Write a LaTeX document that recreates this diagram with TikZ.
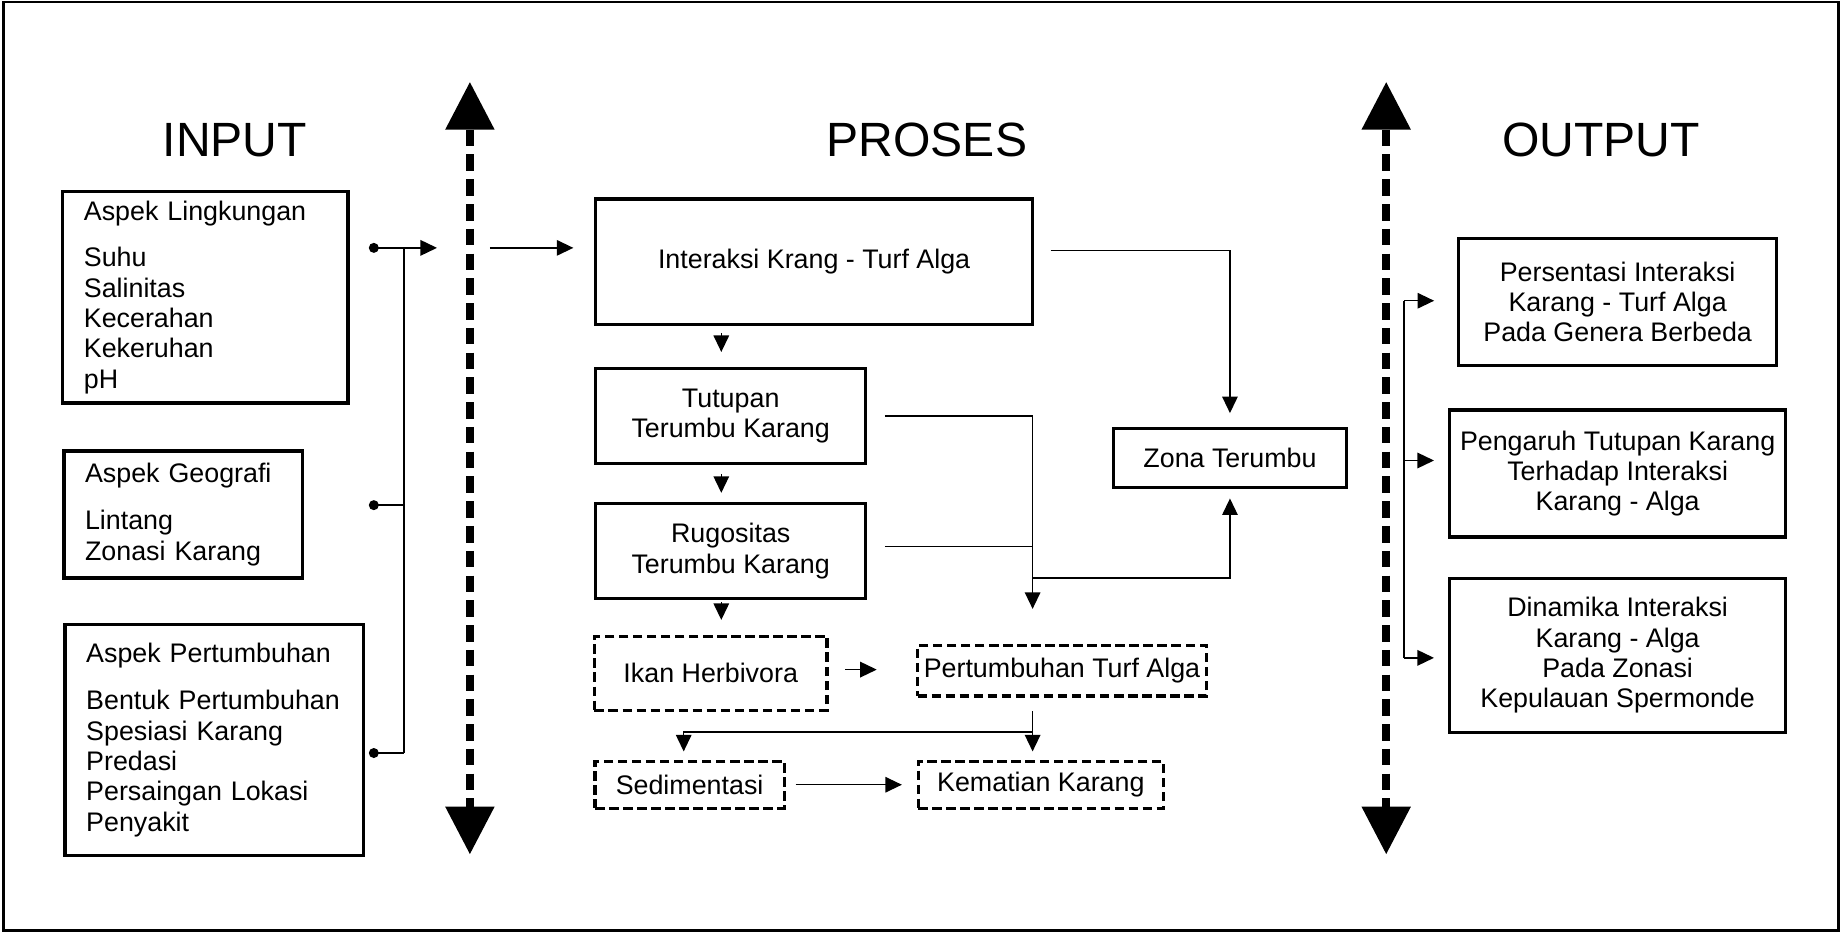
\documentclass[tikz,border=0pt]{standalone}
\usepackage{fontspec}
\setmainfont{Liberation Sans}
\usetikzlibrary{arrows.meta}
\newcommand{\boxfont}{\fontsize{13pt}{14.7pt}\selectfont}
\newcommand{\headfont}{\fontsize{23.3pt}{28pt}\selectfont}

\begin{document}
\begin{tikzpicture}[x=0.02cm, y=-0.02cm,
        box/.style = {draw, line width=1.6pt, align=center, inner sep=0pt, font=\boxfont},
        inbox/.style = {box, anchor=west, align=left, inner xsep=0.36cm},
        dbox/.style = {box, line width=1.5pt, dash pattern=on 4.6pt off 2.2pt},
        title/.style = {anchor=base, font=\headfont},
        conn/.style = {line width=0.7pt},
        arr/.style = {conn, -{Triangle[length=8pt,width=7.5pt]}},
        dotline/.style = {conn, {Circle[length=4.8pt]}-},
        dotarr/.style = {conn, {Circle[length=4.8pt]}-{Triangle[length=8pt,width=7.5pt]}},
        divider/.style = {line width=4pt, dash pattern=on 8pt off 4pt,
            {Triangle[length=23pt,width=24pt,line width=0pt]}-{Triangle[length=23pt,width=24pt,line width=0pt]}}]
        \useasboundingbox (0,0) rectangle (1568,794);
        \draw[line width=1.1pt] (3,2) rectangle (1565,792);

        \node[title] (tin) at (200,133) {INPUT};
        \node[title] (tpro) at (789,133) {PROSES};
        \node[title] (tout) at (1363,133) {OUTPUT};

        \node[inbox, text width=4.14cm, minimum height=3.6cm] (ling) at (52,253)
            {Aspek Lingkungan\\[8pt] Suhu\\ Salinitas\\ Kecerahan\\ Kekeruhan\\ pH};
        \node[inbox, text width=3.34cm, minimum height=2.16cm] (geo) at (53,438)
            {Aspek Geografi\\[8pt] Lintang\\ Zonasi Karang};
        \node[inbox, text width=4.36cm, minimum height=3.94cm] (tumb) at (54,630)
            {Aspek Pertumbuhan\\[8pt] Bentuk Pertumbuhan\\ Spesiasi Karang\\ Predasi\\ Persaingan Lokasi\\ Penyakit};

        \node[box, minimum width=7.44cm, minimum height=2.14cm] (int) at (693,223) {Interaksi Krang - Turf Alga};
        \node[box, minimum width=4.6cm, minimum height=1.62cm] (tut) at (622,354) {Tutupan\\ Terumbu Karang};
        \node[box, minimum width=4.6cm, minimum height=1.62cm] (rug) at (622,469) {Rugositas\\ Terumbu Karang};
        \node[dbox, minimum width=3.96cm, minimum height=1.26cm] (ikan) at (605,573) {Ikan Herbivora};
        \node[dbox, minimum width=4.92cm, minimum height=0.86cm] (ptur) at (904,571) {Pertumbuhan Turf Alga};
        \node[dbox, minimum width=3.22cm, minimum height=0.8cm] (sed) at (587,668) {Sedimentasi};
        \node[dbox, minimum width=4.18cm, minimum height=0.8cm] (mati) at (886,668) {Kematian Karang};
        \node[box, minimum width=3.96cm, minimum height=1cm] (zona) at (1047,390) {Zona Terumbu};

        \node[box, minimum width=5.42cm, minimum height=2.16cm] (per) at (1377,257)
            {Persentasi Interaksi\\ Karang - Turf Alga\\ Pada Genera Berbeda};
        \node[box, minimum width=5.72cm, minimum height=2.16cm] (pen) at (1377,403)
            {Pengaruh Tutupan Karang\\ Terhadap Interaksi\\ Karang - Alga};
        \node[box, minimum width=5.72cm, minimum height=2.62cm] (din) at (1377,558)
            {Dinamika Interaksi\\ Karang - Alga\\ Pada Zonasi\\ Kepulauan Spermonde};

        \coordinate (d1) at (314,211);
        \coordinate (d2) at (314,430);
        \coordinate (d3) at (314,641);
        \coordinate (b1) at (344,211);
        \coordinate (b3) at (344,641);
        \coordinate (a1) at (372,211);
        \coordinate (a2) at (417,211);
        \coordinate (lt) at (400,70);
        \coordinate (lb) at (400,727);
        \coordinate (rt) at (1180,70);
        \coordinate (rb) at (1180,727);
        \coordinate (j2) at (879,492);
        \coordinate (j3) at (879,623);
        \coordinate (o1) at (1195,256);
        \coordinate (o2) at (1195,392);
        \coordinate (o3) at (1195,560);

        \draw[divider] (lt) -- (lb);
        \draw[divider] (rt) -- (rb);

        \draw[conn] (b1) -- (b3);
        \draw[dotarr] (d1) -- (a1);
        \draw[dotline] (d2) -- (d2 -| b1);
        \draw[dotline] (d3) -- (b3);
        \draw[arr, shorten >=10pt] (a2) -- (a2 -| int.west);

        \draw[arr, shorten <=3.1pt, shorten >=7.1pt] (int.south -| 614,0) -- (tut.north -| 614,0);
        \draw[arr, shorten <=4.3pt, shorten >=4.3pt] (tut.south -| 614,0) -- (rug.north -| 614,0);
        \draw[arr, shorten <=1pt, shorten >=7.1pt] (rug.south -| 614,0) -- (ikan.north -| 614,0);

        \draw[arr, shorten <=8pt, shorten >=6.8pt] ([yshift=0.2cm]int.east) -| (zona.north);
        \draw[arr, shorten <=8.5pt, shorten >=17pt] (tut.east) -- (tut.east -| 879,0) -- (ptur.north -| 879,0);
        \draw[conn, shorten <=8.5pt] ([yshift=0.08cm]rug.east) -- ([yshift=0.08cm]rug.east -| 879,0);
        \draw[arr, shorten >=4.5pt] (j2) -| (zona.south);

        \draw[arr, shorten <=8pt, shorten >=19pt] ([yshift=0.06cm]ikan.east) -- ([yshift=0.06cm]ikan.east -| ptur.west);
        \draw[arr, shorten <=6.5pt, shorten >=4pt] (ptur.south -| 879,0) -- (mati.north -| 879,0);
        \draw[arr, shorten >=4pt] (j3) -| ([xshift=-0.1cm]sed.north);
        \draw[arr, shorten <=4.8pt, shorten >=7.1pt] (sed.east) -- (mati.west);

        \draw[conn] (o1) -- (o3);
        \draw[arr, shorten >=11pt] (o1) -- (o1 -| per.west);
        \draw[arr, shorten >=6.8pt] (o2) -- (o2 -| pen.west);
        \draw[arr, shorten >=6.8pt] (o3) -- (o3 -| din.west);
\end{tikzpicture}
\end{document}
